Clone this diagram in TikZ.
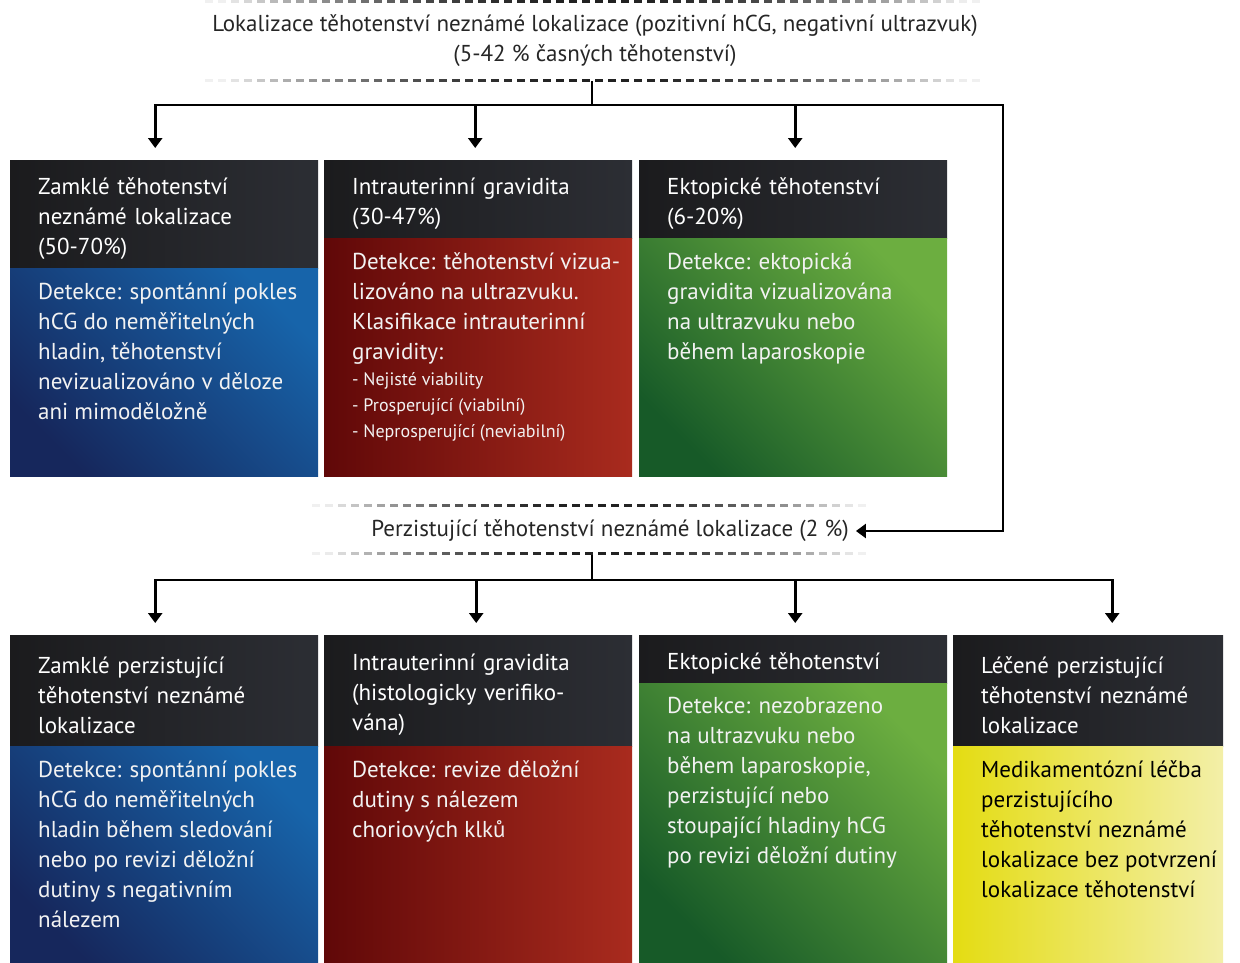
\documentclass[tikz,border=0pt]{standalone}
\usepackage{fontspec}
\setmainfont{PT Sans}
\usetikzlibrary{positioning, arrows.meta, calc}

\definecolor{hdrA}{HTML}{1B1B1D}
\definecolor{hdrB}{HTML}{2C2E34}
\definecolor{blueA}{HTML}{16275C}
\definecolor{blueB}{HTML}{1764AA}
\definecolor{redA}{HTML}{600808}
\definecolor{redB}{HTML}{A92B1E}
\definecolor{greenA}{HTML}{175A28}
\definecolor{greenB}{HTML}{6CAE40}
\definecolor{yelA}{HTML}{E4DC12}
\definecolor{yelB}{HTML}{F3EFA8}

% body text: left pad, top-aligned block, right pad (optional)
\newcommand{\cellbody}[4][8pt]{\hspace*{28pt}\begin{minipage}[t][#2][t]{#3}\raggedright #4\end{minipage}\hspace*{#1}}

% faded dashed rule: y, x from, x to
\newcommand{\fadeline}[3]{%
  \pgfmathsetmacro{\fmid}{(#2+#3)/2}%
  \pgfmathsetmacro{\fhalf}{(#3-#2)/2}%
  \pgfmathtruncatemacro{\fnext}{#2+13}%
  \foreach \fx in {#2,\fnext,...,#3}{%
    \pgfmathtruncatemacro{\fk}{max(6,88*(1-(abs(\fx-\fmid)/\fhalf)^2))}%
    \draw[line width=3pt, black!\fk] (\fx,#1) -- ++(8,0);
  }}

\tikzset{
  txt/.style={font=\fontsize{23}{30}\selectfont},
  hdr/.style={txt, anchor=north west, minimum width=308pt, text width=252pt,
    inner xsep=28pt, inner ysep=0pt, align=left, text=white,
    execute at begin node={\rule{0pt}{25pt}},
    left color=hdrA, right color=hdrB},
  body/.style={txt, anchor=north west, inner xsep=0pt, inner ysep=14pt, text=black!5},
  bluecell/.style={body, left color=blueA, right color=blueB, shading angle=135},
  redcell/.style={body, left color=redA, right color=redB},
  greencell/.style={body, left color=greenA, right color=greenB, shading angle=135},
  yellowcell/.style={body, left color=yelA, right color=yelB, text=black},
  line/.style={line width=2.6pt},
  arr/.style={line, -{Triangle[width=14pt,length=10pt]}, shorten >=12pt},
}

\begin{document}
\begin{tikzpicture}[x=1pt, y=-1pt]
  \useasboundingbox (0,0) rectangle (1240,962);

  % top label
  \shade[left color=white, middle color=black!11, right color=white] (195,2) rectangle (990,80);
  \fadeline{1}{205}{975}
  \fadeline{80}{205}{975}
  \node[txt, align=center, text=black!85, minimum height=80pt, inner sep=0pt] (ttl) at (595,41)
    {Lokalizace těhotenství neznámé lokalizace (pozitivní hCG, negativní ultrazvuk)\\(5-42 \% časných těhotenství)};

  % first row
  \node[hdr, minimum height=108pt] (a1) at (10,160) {Zamklé těhotenství\\neznámé lokalizace\\(50-70\%)};
  \node[hdr, minimum height=78pt] (a2) at (324,160) {Intrauterinní gravidita\\(30-47\%)};
  \node[hdr, minimum height=78pt] (a3) at (639,160) {Ektopické těhotenství\\(6-20\%)};

  \node[bluecell] (d1) at (a1.south west) {\cellbody{180pt}{272pt}{Detekce: spontánní pokles\\hCG do neměřitelných\\hladin, těhotenství\\nevizualizováno v děloze\\ani mimoděložně}};
  \node[redcell] (d2) at (a2.south west) {\cellbody{210pt}{272pt}{Detekce: těhotenství vizua-\\lizováno na ultrazvuku.\\Klasifikace intrauterinní\\gravidity:\par
    {\fontsize{18}{26}\selectfont - Nejisté viability\\- Prosperující (viabilní)\\- Neprosperující (neviabilní)\par}}};
  \node[greencell] (d3) at (a3.south west) {\cellbody{210pt}{272pt}{Detekce: ektopická\\gravidita vizualizována\\na ultrazvuku nebo\\během laparoskopie}};

  % middle label
  \shade[left color=white, middle color=black!11, right color=white] (255,505) rectangle (895,553);
  \fadeline{505}{312}{862}
  \fadeline{553}{312}{862}
  \node[txt, text=black!85, minimum height=48pt, inner xsep=7pt, inner ysep=0pt] (pzt) at (610,531)
    {Perzistující těhotenství neznámé lokalizace (2 \%)};

  % second row
  \node[hdr, minimum height=111pt] (b1) at (10,635) {Zamklé perzistující\\těhotenství neznámé\\lokalizace};
  \node[hdr, minimum height=111pt] (b2) at (324,635) {Intrauterinní gravidita\\(histologicky verifiko-\\vána)};
  \node[hdr, minimum height=48pt] (b3) at (639,635) {Ektopické těhotenství};
  \node[hdr, minimum height=111pt, minimum width=270pt, text width=214pt] (b4) at (953,635) {Léčené perzistující\\těhotenství neznámé\\lokalizace};

  \node[bluecell] (e1) at (b1.south west) {\cellbody{188pt}{272pt}{Detekce: spontánní pokles\\hCG do neměřitelných\\hladin během sledování\\nebo po revizi děložní\\dutiny s negativním\\nálezem}};
  \node[redcell] (e2) at (b2.south west) {\cellbody{188pt}{272pt}{Detekce: revize děložní\\dutiny s nálezem\\choriových klků}};
  \node[greencell] (e3) at (b3.south west) {\cellbody{251pt}{272pt}{Detekce: nezobrazeno\\na ultrazvuku nebo\\během laparoskopie,\\perzistující nebo\\stoupající hladiny hCG\\po revizi děložní dutiny}};
  \node[yellowcell] (e4) at (b4.south west) {\cellbody[0pt]{188pt}{242pt}{Medikamentózní léčba\\perzistujícího\\těhotenství neznámé\\lokalizace bez potvrzení\\lokalizace těhotenství}};

  % connectors
  \coordinate (j1) at (592,105);
  \coordinate (r1) at (1003,531);
  \coordinate (j2) at (592,580);

  \draw[line] (ttl.south -| j1) -- (j1);
  \draw[arr] (j1) -| ([xshift=-9pt]a1.north);
  \draw[arr] (j1) -| ([xshift=-3pt]a2.north);
  \draw[arr] (j1) -| ([xshift=2pt]a3.north);
  \draw[line, -{Triangle[width=14pt,length=10pt]}] (j1) -| (r1) -- (pzt.east);

  \draw[line] (pzt.south -| j2) -- (j2);
  \draw[arr] (j2) -| ([xshift=-9pt]b1.north);
  \draw[arr] (j2) -| ([xshift=-2pt]b2.north);
  \draw[arr] (j2) -| ([xshift=2pt]b3.north);
  \draw[arr] (j2) -| ([xshift=24pt]b4.north);
\end{tikzpicture}
\end{document}
